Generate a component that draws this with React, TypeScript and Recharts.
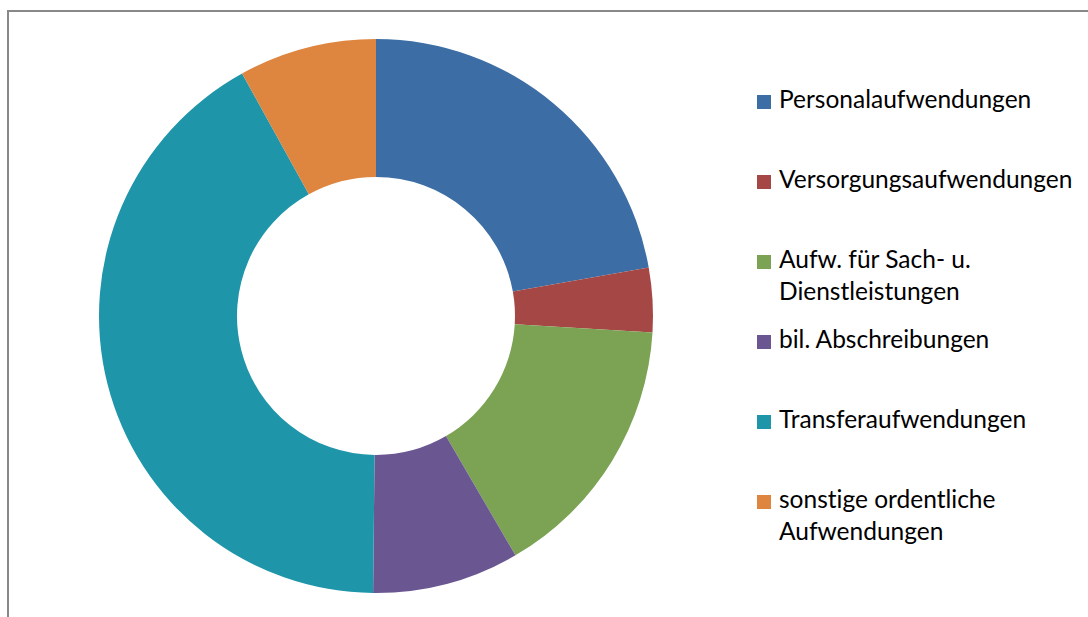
import { PieChart, Pie, Cell, Legend } from 'recharts';

const categories = [
  'Personalaufwendungen',
  'Versorgungsaufwendungen',
  'Aufw. für Sach- u. Dienstleistungen',
  'bil. Abschreibungen',
  'Transferaufwendungen',
  'sonstige ordentliche Aufwendungen',
];
// legend lines (wrapped as in the original)
const legendLines = [
  ['Personalaufwendungen'],
  ['Versorgungsaufwendungen'],
  ['Aufw. für Sach- u.', 'Dienstleistungen'],
  ['bil. Abschreibungen'],
  ['Transferaufwendungen'],
  ['sonstige ordentliche', 'Aufwendungen'],
];
const shares = [22.19, 3.76, 15.65, 8.56, 41.8, 8.03];
const colors = ['#3C6EA5', '#A54744', '#7BA353', '#6A5791', '#1F95AA', '#DE853F'];

const data = categories.map((name, i) => ({ name, value: shares[i] }));

const FONT = 'Lato, "Open Sans", sans-serif';

function LegendList() {
  return (
    <div
      style={{
        fontFamily: FONT,
        fontSize: 24.5,
        color: '#000',
        fontVariantLigatures: 'none',
      }}
    >
      {legendLines.map((lines, i) => (
        <div key={i} style={{ height: 80, display: 'flex', alignItems: 'flex-start' }}>
          <div
            style={{
              width: 14,
              height: 14,
              background: colors[i],
              marginTop: 10,
              marginRight: 8,
              flex: '0 0 auto',
            }}
          />
          <div style={{ lineHeight: '32px', marginTop: -2 }}>
            {lines.map((l, j) => (
              <div key={j} style={{ whiteSpace: 'nowrap' }}>{l}</div>
            ))}
          </div>
        </div>
      ))}
    </div>
  );
}

export default function App() {
  return (
    <div
      style={{
        position: 'absolute',
        left: 7,
        top: 10,
        width: 1081,
        height: 607,
        borderLeft: '2px solid #888',
        borderTop: '2px solid #888',
        background: '#fff',
        overflow: 'hidden',
      }}
    >
      <PieChart width={1079} height={605} margin={{ top: 0, right: 0, bottom: 0, left: 0 }}>
        <Pie
          data={data}
          dataKey="value"
          nameKey="name"
          cx={367}
          cy={304}
          innerRadius={139}
          outerRadius={277}
          startAngle={90}
          endAngle={-270}
          stroke="none"
          isAnimationActive={false}
        >
          {data.map((d, i) => (
            <Cell key={d.name} fill={colors[i]} />
          ))}
        </Pie>
        <Legend
          layout="vertical"
          content={() => <LegendList />}
          wrapperStyle={{ position: 'absolute', left: 748, top: 73, width: 330 }}
        />
      </PieChart>
    </div>
  );
}
